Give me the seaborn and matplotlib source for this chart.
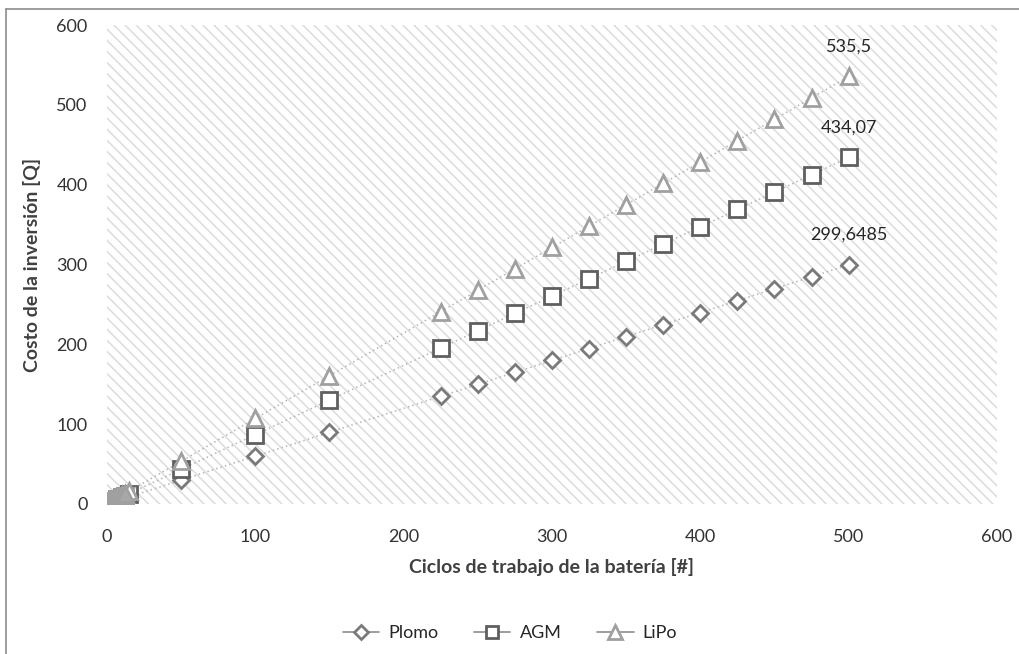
import matplotlib
matplotlib.use("Agg")
import matplotlib.pyplot as plt
import seaborn as sns
import pandas as pd
from matplotlib.lines import Line2D
from matplotlib.patches import Rectangle

ciclos = [0, 1, 2, 3, 5, 7, 10, 12, 15, 50, 100, 150, 225, 250, 275, 300,
          325, 350, 375, 400, 425, 450, 475, 500]
plomo = [0, 0.60, 1.20, 1.80, 3.00, 4.20, 5.99, 7.19, 8.99, 29.96, 59.93, 89.89,
         134.84, 149.82, 164.81, 179.79, 194.77, 209.75, 224.74, 239.72, 254.70,
         269.68, 284.67, 299.6485]
agm = [0, 0.87, 1.74, 2.60, 4.34, 6.08, 8.68, 10.42, 13.02, 43.41, 86.81, 130.22,
       195.33, 217.04, 238.74, 260.44, 282.15, 303.85, 325.55, 347.26, 368.96,
       390.66, 412.37, 434.07]
lipo = [0, 1.07, 2.14, 3.21, 5.36, 7.50, 10.71, 12.85, 16.07, 53.55, 107.1, 160.65,
        240.98, 267.75, 294.53, 321.3, 348.08, 374.85, 401.63, 428.4, 455.18,
        481.95, 508.73, 535.5]
series_names = ["Plomo", "AGM", "LiPo"]
end_labels = ["299,6485", "434,07", "535,5"]
ticks = [0, 100, 200, 300, 400, 500, 600]

df = pd.DataFrame({"ciclos": ciclos, "Plomo": plomo, "AGM": agm, "LiPo": lipo})

sns.set_theme(style="white")
plt.rcParams["font.family"] = ["Lato", "DejaVu Sans"]
plt.rcParams["hatch.linewidth"] = 1.1

fig = plt.figure(figsize=(10.2, 6.54), dpi=100)
ax = fig.add_axes([107 / 1020, 1 - 504 / 654, 890 / 1020, 479 / 654])

ax.add_patch(Rectangle((0, 0), 1, 1, transform=ax.transAxes, facecolor="white",
                       edgecolor="#dcdcdc", hatch="\\\\\\", lw=0, zorder=0))

styles = {
    "Plomo": dict(marker="D", ms=8.5, mec="#7a7a7a"),
    "AGM": dict(marker="s", ms=11, mec="#5f5f5f"),
    "LiPo": dict(marker="^", ms=12, mec="#a0a0a0"),
}
order_z = {"Plomo": 3, "AGM": 4, "LiPo": 5}
small = df[df["ciclos"] < 15]
for name in series_names:
    st = styles[name]
    sns.lineplot(data=df, x="ciclos", y=name, ax=ax, sort=False,
                 marker=st["marker"], markersize=st["ms"], markerfacecolor="white",
                 markeredgecolor=st["mec"], markeredgewidth=2,
                 color="#b5b5b5", linestyle=(0, (1, 2)), linewidth=1.1,
                 zorder=order_z[name])
    # dense cluster near the origin appears as a filled grey blob
    sns.lineplot(data=small, x="ciclos", y=name, ax=ax, sort=False,
                 marker=st["marker"], markersize=st["ms"], markerfacecolor="#a8a8a8",
                 markeredgecolor="#a0a0a0", markeredgewidth=2, linewidth=0,
                 zorder=order_z[name] + 0.5)

for name, lab in zip(series_names, end_labels):
    yv = df[name].iloc[-1]
    ax.annotate(lab, (df["ciclos"].iloc[-1], yv), xytext=(0, 16),
                textcoords="offset points", ha="center", va="bottom",
                fontsize=13, color="#262626")

ax.set_xlim(0, 600)
ax.set_ylim(0, 600)
ax.set_xticks(ticks)
ax.set_yticks(ticks)
ax.tick_params(axis="x", pad=18, labelsize=13, colors="#333333", length=0)
ax.tick_params(axis="y", pad=14, labelsize=13, colors="#333333", length=0)
for s in ax.spines.values():
    s.set_visible(False)
ax.set_xlabel("Ciclos de trabajo de la batería [#]", fontsize=14, fontweight="bold",
              color="#404040", labelpad=9)
ax.set_ylabel("Costo de la inversión [Q]", fontsize=14, fontweight="bold",
              color="#404040", labelpad=11)

handles = []
for name in series_names:
    st = styles[name]
    handles.append(Line2D([0], [0], color="#8c8c8c", lw=1.2, marker=st["marker"],
                          ms=st["ms"] * 0.85, mfc="white", mec=st["mec"], mew=2))
fig.legend(handles, series_names, loc="center", bbox_to_anchor=(0.5, 1 - 633 / 654),
           ncol=3, frameon=False, fontsize=13, handlelength=2.0,
           columnspacing=2.0, handletextpad=0.5)

fig.add_artist(Line2D([6 / 1020, 6 / 1020], [0, 1 - 9 / 654], color="#8c8c8c",
                      lw=1.2, transform=fig.transFigure))
fig.add_artist(Line2D([6 / 1020, 1], [1 - 9 / 654, 1 - 9 / 654], color="#8c8c8c",
                      lw=1.2, transform=fig.transFigure))

fig.savefig("out.png", dpi=100)
